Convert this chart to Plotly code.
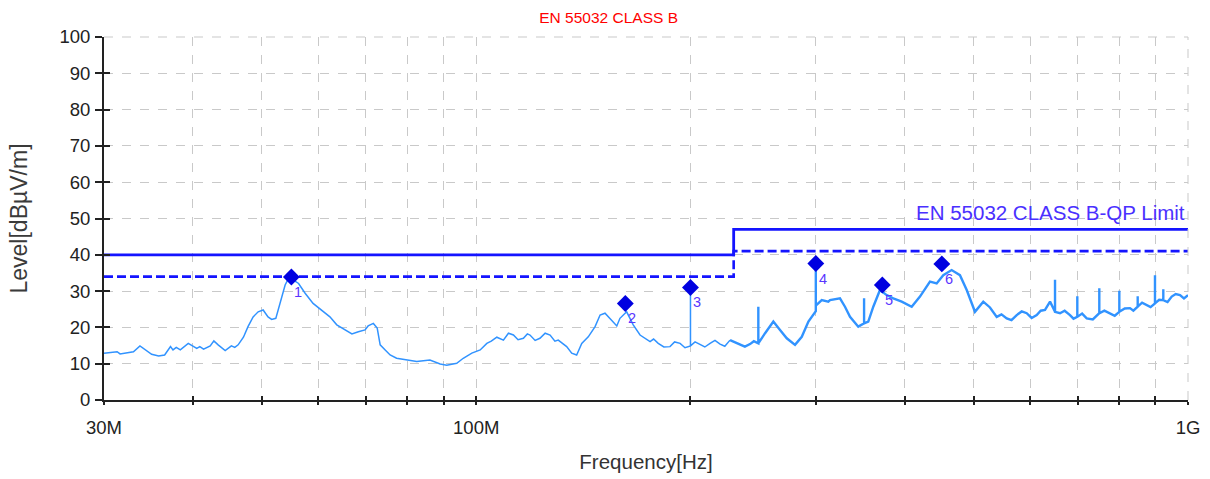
import math
import plotly.graph_objects as go

# ---------------- data ----------------
# measured spectrum (frequency in MHz, level in dBuV/m)
trace_freq_mhz = [
    30.0, 31.3, 31.6, 33.0, 33.7, 34.3, 35.0, 35.8, 36.5, 37.2, 37.5, 37.9, 38.4, 39.4,
    40.5, 40.9, 41.4, 42.3, 42.8, 43.4, 44.4, 45.3, 45.8, 46.3, 47.1, 47.8, 48.6, 49.4,
    50.2, 51.0, 51.6, 52.3, 53.0, 53.9, 54.5, 55.0, 56.3, 57.5, 59.0, 61.0, 62.3, 63.7,
    65.1, 66.9, 68.3, 69.8, 70.5, 71.7, 72.6, 73.3, 74.5, 75.7, 77.3, 79.9, 82.5, 86.1,
    89.0, 90.9, 93.9, 95.9, 98.6, 101.3, 103.5, 106.9, 109.2, 112.8, 116.5, 119.0, 122.9,
    127.0, 130.4, 134.0, 136.2, 138.4, 140.7, 143.7, 146.9, 149.3, 151.7, 155.0, 157.6,
    159.2, 162.7, 166.2, 169.9, 175.5, 180.2, 187.2, 193.4,
    200.0, 200.0, 200.0,
    206.3, 213.1, 220.1, 227.3, 234.8, 242.5,
    249.1, 249.1, 249.1,
    254.6, 261.5, 267.2, 273.1, 280.5, 286.7, 292.9, 299.2,
    300.0, 300.0, 300.0,
    305.8, 312.4, 314.1, 324.4, 329.7, 335.1, 344.2, 349.8,
    350.7, 350.7, 350.7,
    355.5, 361.3, 369.2, 377.3, 385.4, 396.1, 409.1, 420.2, 434.0, 443.5, 453.1, 465.5,
    478.2, 488.8, 502.0, 515.7, 527.0, 538.6, 556.3, 574.6, 593.5, 613.0, 629.7, 640.0,
    650.4, 650.4, 650.4,
    661.0, 682.7,
    699.0, 699.0, 699.0,
    720.6,
    750.6, 750.6, 750.6,
    777.0,
    800.8, 800.8, 800.8,
    828.9,
    849.8, 849.8, 849.8,
    874.9,
    898.7, 898.7, 898.7,
    923.2, 923.2, 923.2,
    948.7, 974.5, 1000.0,
]
trace_level = [
    12.9, 13.3, 12.7, 13.3, 14.9, 13.8, 12.6, 12.1, 12.4, 14.7, 13.8, 14.5, 13.8, 15.6,
    14.2, 14.7, 14.0, 14.9, 16.3, 15.2, 13.6, 14.9, 14.5, 15.2, 17.3, 20.2, 22.9, 24.3,
    24.8, 22.9, 22.2, 22.5, 26.6, 31.7, 33.5, 33.4, 32.1, 29.4, 26.6, 24.3, 22.9, 20.7,
    19.5, 18.2, 18.8, 19.3, 20.4, 21.1, 19.8, 15.2, 13.8, 12.4, 11.5, 11.0, 10.6, 11.0,
    9.9, 9.6, 10.1, 11.5, 12.9, 13.8, 15.6, 17.3, 16.5, 17.9, 17.0, 17.9, 17.0,
    17.9, 16.5, 14.7, 12.9, 12.4, 15.6, 17.4, 20.2, 23.4, 23.9, 22.0, 20.4,
    22.5, 24.3, 20.7, 17.9, 16.1, 15.6, 14.7, 15.6,
    14.9, 31.0, 14.9,
    15.2, 15.6, 15.4, 16.5, 15.4, 15.4,
    15.6, 25.7, 15.6,
    18.4, 21.6, 19.3, 17.0, 15.2, 17.4, 21.6, 24.3,
    24.5, 37.6, 26.0,
    27.5, 27.1, 27.5, 28.0, 25.7, 22.9, 20.2, 21.1,
    21.1, 28.0, 21.1,
    21.6, 25.7, 30.3, 28.9, 28.0, 27.1, 25.7, 28.5, 32.6, 32.1, 34.4, 35.8,
    34.4, 30.3, 24.3, 27.1, 25.5, 22.9, 22.5, 23.4, 23.9, 23.4, 24.8, 27.1,
    24.3, 33.1, 24.3,
    23.9, 23.4,
    22.9, 28.6, 22.9,
    22.5,
    23.9, 30.8, 23.9,
    23.9,
    24.3, 30.1, 24.3,
    25.3,
    25.7, 28.6, 25.7,
    26.2,
    26.6, 34.4, 26.6,
    27.5, 30.5, 27.5,
    28.5, 28.9, 28.9,
]

# extra readings of the noise ripple between the points above
ripple_freq_mhz = [
    105.0, 111.0, 114.5, 118.0, 121.0, 125.0, 129.0,
    177.5, 183.5, 190.0, 196.5, 203.0, 209.5, 216.5, 223.5, 231.0, 238.5, 245.5,
    547.0, 565.0, 584.0, 603.0, 621.0,
    671.0, 690.5, 710.0, 735.0, 763.0, 789.0, 815.0, 838.0, 862.0, 886.0, 911.0,
    936.0, 961.0, 987.0,
]
ripple_level = [
    16.2, 18.4, 16.6, 18.2, 16.4, 18.4, 16.2,
    16.8, 14.6, 16.0, 14.4, 16.0, 14.6, 16.4, 14.8, 15.9, 14.7, 16.2,
    23.6, 22.0, 24.4, 22.6, 24.6,
    24.6, 22.4, 23.8, 22.2, 24.6, 23.2, 25.2, 24.6, 26.8, 25.6, 27.6,
    27.0, 29.2, 28.0,
]

# limit lines (EN 55032 Class B, QP) and the margin line
limit_freq_mhz = [30.0, 230.0, 230.0, 1000.0]
limit_qp = [40.0, 40.0, 47.0, 47.0]
limit_margin = [34.0, 34.0, 41.0, 41.0]

# final measurement markers
marker_freq_mhz = [55.0, 162.0, 200.0, 300.0, 372.0, 451.0]
marker_level = [33.9, 26.6, 31.0, 37.6, 31.7, 37.5]
marker_labels = ["1", "2", "3", "4", "5", "6"]

# axis ticks
x_tick_mhz = [30, 40, 50, 60, 70, 80, 90, 100, 200, 300, 400, 500, 600, 700, 800, 900, 1000]
x_tick_text = ["30M", "", "", "", "", "", "", "100M", "", "", "", "", "", "", "", "", "1G"]
y_ticks = [0, 10, 20, 30, 40, 50, 60, 70, 80, 90, 100]

# ---------------- figure ----------------
MHZ = 1e6
font = "Liberation Sans, Arial, sans-serif"
split = 230.0  # thinner line below, noisier/thicker band above

pts = sorted(list(zip(trace_freq_mhz, trace_level)) + list(zip(ripple_freq_mhz, ripple_level)),
             key=lambda p: p[0])

fig = go.Figure()

lo = [p for p in pts if p[0] <= split]
hi = [p for p in pts if p[0] >= lo[-1][0]]
fig.add_trace(go.Scatter(
    x=[f * MHZ for f, _ in lo], y=[v for _, v in lo], mode="lines",
    line=dict(color="#3193ff", width=1.5), hoverinfo="skip", showlegend=False))
fig.add_trace(go.Scatter(
    x=[f * MHZ for f, _ in hi], y=[v for _, v in hi], mode="lines",
    line=dict(color="#3193ff", width=2.4), hoverinfo="skip", showlegend=False))

fig.add_trace(go.Scatter(
    x=[f * MHZ for f in limit_freq_mhz], y=limit_margin, mode="lines",
    line=dict(color="#1414ff", width=2.6, dash="9px,4px"), showlegend=False))
fig.add_trace(go.Scatter(
    x=[f * MHZ for f in limit_freq_mhz], y=limit_qp, mode="lines",
    line=dict(color="#1414ff", width=2.8), showlegend=False))

fig.add_trace(go.Scatter(
    x=[f * MHZ for f in marker_freq_mhz], y=marker_level, mode="markers",
    marker=dict(symbol="diamond", size=13, color="#0000e0"), showlegend=False))

for f, lv, lab in zip(marker_freq_mhz, marker_level, marker_labels):
    fig.add_annotation(x=math.log10(f * MHZ), y=lv, xref="x", yref="y", text=lab,
                       showarrow=False, xanchor="center", yanchor="middle",
                       xshift=7, yshift=-15,
                       font=dict(family=font, size=14.5, color="#5a35ff"))

# dummy trace for the inner-tick overlay axes
fig.add_trace(go.Scatter(x=[None], y=[None], xaxis="x2", yaxis="y2", showlegend=False))

fig.add_annotation(x=1.0, y=47, xref="paper", yref="y", text="EN 55032 CLASS B-QP Limit",
                   showarrow=False, xanchor="right", yanchor="bottom", yshift=3, xshift=-1,
                   font=dict(family=font, size=20.5, color="#4a30ff"))

xrange_hz = [math.log10(30 * MHZ), math.log10(1000 * MHZ)]

fig.update_layout(
    width=1210, height=479,
    margin=dict(l=104, r=22, t=37, b=79, autoexpand=False),
    paper_bgcolor="white", plot_bgcolor="white",
    title=dict(text="EN 55032 CLASS B", x=0.503, xref="container", xanchor="center",
               y=0.963, yref="container", yanchor="middle",
               font=dict(family=font, size=15.5, color="#ff0000")),
    xaxis=dict(type="log", range=xrange_hz, automargin=False,
               tickvals=[v * MHZ for v in x_tick_mhz], ticktext=x_tick_text,
               ticks="outside", ticklen=3, tickcolor="#222", tickwidth=1.5,
               showline=True, linecolor="#222", linewidth=1.8,
               showgrid=True, gridcolor="#c9c9c9", griddash="dash", gridwidth=1,
               zeroline=False, tickfont=dict(family=font, size=18.5, color="#222"),
               ticklabelstandoff=7,
               title=dict(text="Frequency[Hz]", standoff=18,
                          font=dict(family=font, size=20.5, color="#333"))),
    yaxis=dict(range=[0, 100], tickvals=y_ticks, automargin=False,
               ticks="outside", ticklen=7, tickcolor="#222", tickwidth=1.5,
               showline=True, linecolor="#222", linewidth=1.8,
               showgrid=True, gridcolor="#c9c9c9", griddash="dash", gridwidth=1,
               zeroline=False, tickfont=dict(family=font, size=18.5, color="#222"),
               ticklabelstandoff=1,
               title=dict(text="Level[dBµV/m]", standoff=25,
                          font=dict(family=font, size=23, color="#3a3a3a"))),
    xaxis2=dict(type="log", range=xrange_hz, overlaying="x", anchor="y", side="bottom",
                tickvals=[v * MHZ for v in x_tick_mhz], ticks="inside", ticklen=4,
                tickcolor="#222", tickwidth=1.5, showticklabels=False, showgrid=False,
                showline=False, zeroline=False),
    yaxis2=dict(range=[0, 100], overlaying="y", anchor="x", side="left",
                tickvals=y_ticks, ticks="inside", ticklen=6, tickcolor="#222", tickwidth=1.5,
                showticklabels=False, showgrid=False, showline=False, zeroline=False),
    shapes=[
        dict(type="line", xref="paper", yref="paper", x0=0, x1=1, y0=1, y1=1,
             line=dict(color="#c9c9c9", width=1, dash="dash")),
        dict(type="line", xref="paper", yref="paper", x0=1, x1=1, y0=0, y1=1,
             line=dict(color="#c9c9c9", width=1, dash="dash")),
    ],
)

fig.write_html(
    "out.html",
    config={"displayModeBar": False},
    post_script="document.body.style.margin='0px';document.body.style.overflow='hidden';",
)
